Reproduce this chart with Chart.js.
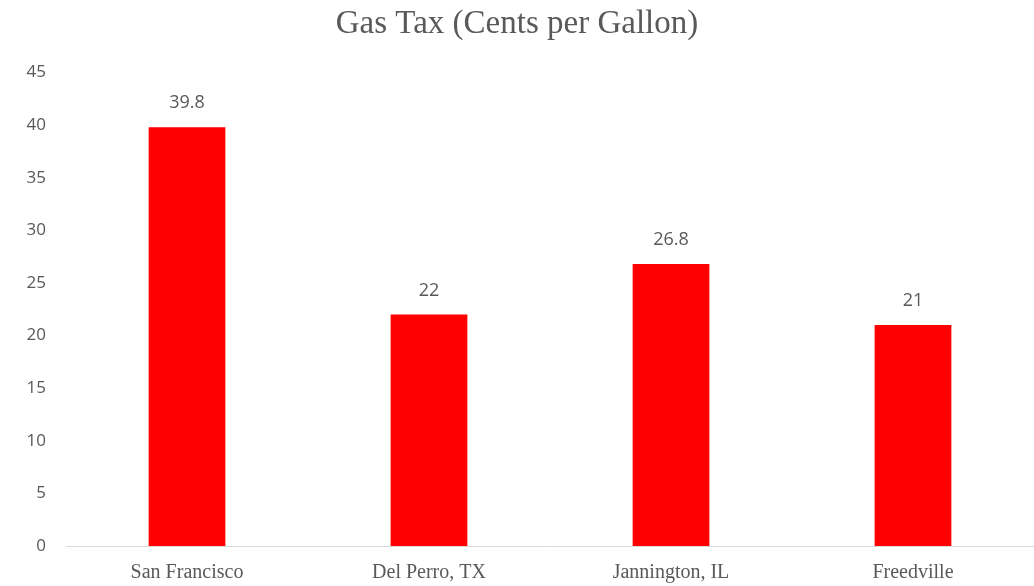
<!DOCTYPE html>
<html>
<head>
<meta charset="utf-8">
<style>
    html, body { margin: 0; padding: 0; background: #fff; }
    #wrap { width: 1034px; height: 586px; }
</style>
</head>
<body>
<div id="wrap"><canvas id="gasChart" width="1034" height="586"></canvas></div>
<script src="https://cdn.jsdelivr.net/npm/chart.js"></script>
<script>
    // data
    const cities = ['San Francisco', 'Del Perro, TX', 'Jannington, IL', 'Freedville'];
    const taxCents = [39.8, 22, 26.8, 21];
    const yTicks = [0, 5, 10, 15, 20, 25, 30, 35, 40, 45];

    const grey = '#595959';

    // value labels above bars
    const barLabels = {
        id: 'barLabels',
        afterDatasetsDraw(chart) {
            const ctx = chart.ctx;
            const meta = chart.getDatasetMeta(0);
            ctx.save();
            ctx.font = '18px "Open Sans", sans-serif';
            ctx.fillStyle = grey;
            ctx.textAlign = 'center';
            ctx.textBaseline = 'middle';
            meta.data.forEach((bar, i) => {
                ctx.fillText(String(taxCents[i]), bar.x, bar.y - 24);
            });
            ctx.restore();
        }
    };

    new Chart(document.getElementById('gasChart').getContext('2d'), {
        type: 'bar',
        data: {
            labels: cities,
            datasets: [{
                data: taxCents,
                backgroundColor: '#ff0000',
                barPercentage: 0.317,
                categoryPercentage: 1
            }]
        },
        options: {
            responsive: false,
            animation: false,
            layout: { padding: 0 },
            plugins: {
                legend: { display: false },
                tooltip: { enabled: false },
                title: {
                    display: true,
                    text: 'Gas Tax (Cents per Gallon)',
                    color: grey,
                    font: { family: '"Liberation Serif", serif', size: 33, weight: 'normal' },
                    padding: { top: 5, bottom: 28 }
                }
            },
            scales: {
                y: {
                    min: 0,
                    max: 45,
                    afterBuildTicks(axis) {
                        axis.ticks = yTicks.map(v => ({ value: v }));
                    },
                    afterFit(axis) { axis.width = 66; },
                    grid: { display: false, drawTicks: false },
                    border: { display: false },
                    ticks: {
                        color: grey,
                        padding: 20,
                        font: { family: '"Open Sans", sans-serif', size: 17 }
                    }
                },
                x: {
                    afterFit(axis) { axis.height = 40; },
                    grid: { display: false, drawTicks: false },
                    border: { color: '#d9d9d9', width: 1 },
                    ticks: {
                        color: grey,
                        padding: 15,
                        font: { family: '"Liberation Serif", serif', size: 20 }
                    }
                }
            }
        },
        plugins: [barLabels]
    });
</script>
</body>
</html>
